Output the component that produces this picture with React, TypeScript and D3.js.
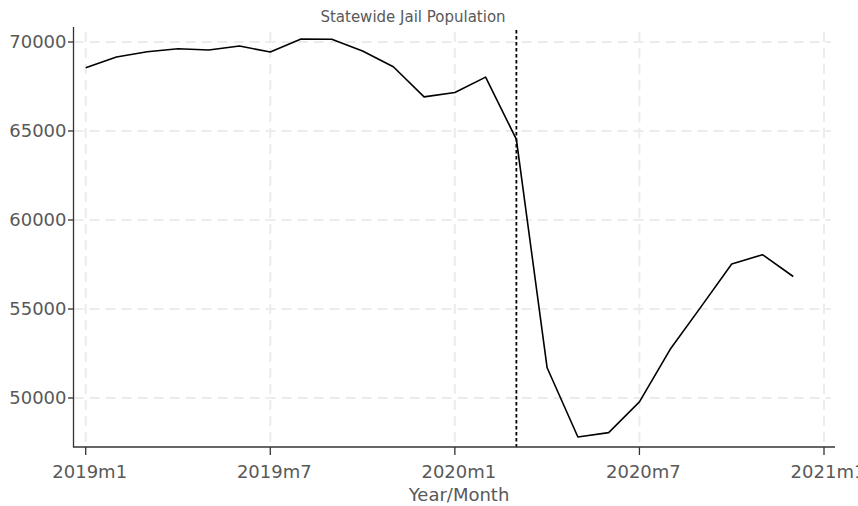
import React from "react";
import * as d3 from "d3";

const months = [
  "2019m1","2019m2","2019m3","2019m4","2019m5","2019m6","2019m7","2019m8","2019m9","2019m10","2019m11","2019m12",
  "2020m1","2020m2","2020m3","2020m4","2020m5","2020m6","2020m7","2020m8","2020m9","2020m10","2020m11","2020m12",
];
const population = [
  68551, 69154, 69453, 69622, 69549, 69775, 69436, 70169, 70152, 69493, 68608, 66917,
  67164, 68027, 64532, 51697, 47807, 48055, 49780, 52734, 55118, 57525, 58050, 56826,
];
const xTickIdx = [0, 6, 12, 18, 24];
const xTickLabels = ["2019m1", "2019m7", "2020m1", "2020m7", "2021m1"];
const yTicks = [50000, 55000, 60000, 65000, 70000];
const markerIdx = 14; // 2020m3
const title = "Statewide Jail Population";
const xTitle = "Year/Month";

const W = 858;
const H = 506;
const FONT = "DejaVu Sans";

export default function App() {
  const x = d3.scaleLinear().domain([0, 24]).range([85.7, 824]);
  const y = d3.scaleLinear().domain([50000, 70000]).range([398, 42]);
  const line = d3
    .line<number>()
    .x((_, i) => x(i))
    .y((d) => y(d));

  const axisLeft = 73.5;
  const axisBottom = 447;
  const gridColor = "#ececec";
  const textColor = "#595959";

  return (
    <svg
      width={W}
      height={H}
      style={{ position: "absolute", left: 0, top: 0, background: "#fff" }}
      fontFamily={FONT}
    >
      <rect x={0} y={0} width={W} height={H} fill="#fff" />
      {/* horizontal grid */}
      {yTicks.map((t) => (
        <line
          key={"hg" + t}
          x1={axisLeft}
          x2={831}
          y1={y(t)}
          y2={y(t)}
          stroke={gridColor}
          strokeWidth={2}
          strokeDasharray="10,6"
        />
      ))}
      {/* vertical grid */}
      {xTickIdx.map((t) => (
        <line
          key={"vg" + t}
          x1={x(t)}
          x2={x(t)}
          y1={32}
          y2={axisBottom}
          stroke={gridColor}
          strokeWidth={2}
          strokeDasharray="10,6"
        />
      ))}
      {/* reference line */}
      <line
        x1={x(markerIdx)}
        x2={x(markerIdx)}
        y1={30}
        y2={axisBottom}
        stroke="#000"
        strokeWidth={1.8}
        strokeDasharray="3.5,2.5"
      />
      {/* data line */}
      <path d={line(population) || ""} fill="none" stroke="#000" strokeWidth={1.6} strokeLinejoin="round" />
      {/* axes */}
      <line x1={axisLeft} x2={axisLeft} y1={27} y2={axisBottom} stroke="#333" strokeWidth={1.3} />
      <line x1={axisLeft - 0.6} x2={835} y1={axisBottom} y2={axisBottom} stroke="#333" strokeWidth={1.3} />
      {yTicks.map((t) => (
        <g key={"yt" + t}>
          <line x1={68} x2={axisLeft} y1={y(t)} y2={y(t)} stroke="#333" strokeWidth={1.3} />
          <text
            x={66.5}
            y={y(t)}
            dy="0.36em"
            textAnchor="end"
            fontSize={18}
            fill={textColor}
          >
            {t}
          </text>
        </g>
      ))}
      {xTickIdx.map((t, i) => (
        <g key={"xt" + t}>
          <line x1={x(t)} x2={x(t)} y1={axisBottom} y2={455} stroke="#333" strokeWidth={1.3} />
          <text x={x(t) + 4} y={478} textAnchor="middle" fontSize={18} fill={textColor}>
            {xTickLabels[i]}
          </text>
        </g>
      ))}
      <text x={459} y={501} textAnchor="middle" fontSize={18} fill={textColor}>
        {xTitle}
      </text>
      <text x={413} y={22} textAnchor="middle" fontSize={15} fill={textColor}>
        {title}
      </text>
      <title>{months.join(",")}</title>
    </svg>
  );
}
